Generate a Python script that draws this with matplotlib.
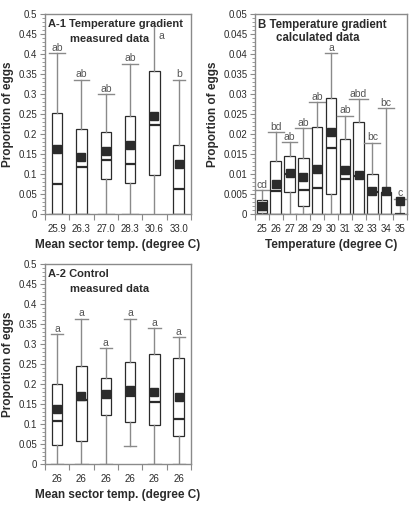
import matplotlib.pyplot as plt
from matplotlib.ticker import MultipleLocator, FixedLocator

plt.rcParams["font.family"] = ["Liberation Sans", "DejaVu Sans"]

# Panel A-1: temperature gradient, measured data
a1_labels = ["25.9", "26.3", "27.0", "28.3", "30.6", "33.0"]
a1_q1 = [0.0, 0.0, 0.087, 0.077, 0.098, 0.0]
a1_med = [0.074, 0.117, 0.134, 0.124, 0.223, 0.063]
a1_q3 = [0.252, 0.213, 0.204, 0.244, 0.358, 0.172]
a1_mean = [0.163, 0.143, 0.157, 0.172, 0.244, 0.124]
a1_lo = [0.0, 0.0, 0.0, 0.0, 0.0, 0.0]
a1_hi = [0.402, 0.336, 0.300, 0.376, 0.470, 0.336]
a1_sig = ["ab", "ab", "ab", "ab", "a", "b"]

# Panel B: temperature gradient, calculated data
b_labels = ["25", "26", "27", "28", "29", "30", "31", "32", "33", "34", "35"]
b_q1 = [0.0003, 0.0, 0.0054, 0.0020, 0.0, 0.0049, 0.0, 0.0, 0.0, 0.0, 0.0]
b_med = [0.0010, 0.0058, 0.0100, 0.0060, 0.0066, 0.0164, 0.0088, 0.0095, 0.0055, 0.0052, 0.0]
b_q3 = [0.0034, 0.0133, 0.0145, 0.0140, 0.0218, 0.0290, 0.0188, 0.0229, 0.0100, 0.0055, 0.0]
b_mean = [0.0021, 0.0074, 0.0102, 0.0093, 0.0113, 0.0205, 0.0110, 0.0098, 0.0058, 0.0058, 0.0033]
b_lo = [0.0] * 11
b_hi = [0.0060, 0.0205, 0.0180, 0.0215, 0.0280, 0.0402, 0.0246, 0.0287, 0.0178, 0.0264, 0.0038]
b_sig = ["cd", "bd", "ab", "ab", "ab", "a", "ab", "abd", "bc", "bc", "c"]

# Panel A-2: control, measured data
a2_labels = ["26", "26", "26", "26", "26", "26"]
a2_q1 = [0.047, 0.058, 0.122, 0.106, 0.098, 0.069]
a2_med = [0.107, 0.159, 0.168, 0.170, 0.155, 0.113]
a2_q3 = [0.199, 0.245, 0.216, 0.255, 0.275, 0.265]
a2_mean = [0.138, 0.169, 0.175, 0.186, 0.181, 0.168]
a2_lo = [0.0, 0.0, 0.0, 0.044, 0.0, 0.0]
a2_hi = [0.325, 0.363, 0.289, 0.363, 0.340, 0.317]
a2_sig = ["a", "a", "a", "a", "a", "a"]

DARK = "#2b2b2b"
GRAY = "#8a8a8a"
FIG_W, FIG_H = 4.18, 5.07

fig = plt.figure(figsize=(FIG_W, FIG_H), dpi=100)


def panel(rect, labels, q1, med, q3, mean, lo, hi, sig, ymax, ymajor, yminor,
          title1, title2, xlabel, side_label=None, tsize=8):
    ax = fig.add_axes(rect)
    n = len(labels)
    px_per_cat = rect[2] * FIG_W * 100 / n
    stats = []
    for i in range(n):
        stats.append(dict(q1=q1[i], med=med[i], q3=q3[i], mean=mean[i],
                          whislo=lo[i], whishi=hi[i], fliers=[]))
    capw = []
    for i, s in enumerate(sig):
        if side_label is not None and i == side_label:
            capw.append(0.0)
        else:
            capw.append((8.5 + 3.7 * len(s)) / px_per_cat)
    ax.bxp(stats, positions=range(1, n + 1), widths=10.5 / px_per_cat,
           capwidths=capw, showmeans=True, patch_artist=True,
           boxprops=dict(facecolor="white", edgecolor=DARK, linewidth=0.9),
           medianprops=dict(color=DARK, linewidth=1.6),
           whiskerprops=dict(color=GRAY, linewidth=1.0),
           capprops=dict(color=GRAY, linewidth=1.0),
           meanprops=dict(marker="s", markerfacecolor=DARK, markeredgecolor=DARK,
                          markersize=5.2))
    off = ymax * 0.002
    for i, s in enumerate(sig):
        if side_label is not None and i == side_label:
            ax.text(i + 1.3, hi[i] * 0.945, s, ha="center", va="center",
                    fontsize=7.5, color="#555555")
        else:
            ax.text(i + 1, hi[i] + off, s, ha="center", va="bottom",
                    fontsize=7.5, color="#555555")

    ax.set_xlim(0.5, n + 0.5)
    ax.set_ylim(0, ymax)
    ax.yaxis.set_major_locator(MultipleLocator(ymajor))
    ax.yaxis.set_minor_locator(MultipleLocator(yminor))
    ax.set_yticklabels([f"{v:g}" for v in ax.get_yticks()])
    ax.set_xticks(range(1, n + 1))
    ax.set_xticklabels(labels)
    ax.xaxis.set_minor_locator(FixedLocator([k + 0.5 for k in range(n + 1)]))
    ax.tick_params(axis="x", which="major", length=0, pad=7, labelsize=7, labelcolor=DARK)
    ax.tick_params(axis="x", which="minor", length=4, width=0.8, color=GRAY)
    ax.tick_params(axis="y", which="major", length=3.5, width=0.8, color=GRAY,
                   labelsize=7, labelcolor=DARK, pad=2)
    ax.tick_params(axis="y", which="minor", length=2, width=0.6, color=GRAY)
    for sp in ax.spines.values():
        sp.set_color(GRAY)
        sp.set_linewidth(1.0)
    ax.set_ylabel("Proportion of eggs", fontsize=8.5, fontweight="bold",
                  color=DARK, labelpad=3)
    ax.set_xlabel(xlabel, fontsize=8.5, fontweight="bold", color=DARK, labelpad=4)
    ax.text(0.02, 0.975, title1, transform=ax.transAxes, ha="left", va="top",
            fontsize=tsize, fontweight="bold", color=DARK)
    ax.text(title2[1], title2[2], title2[0], transform=ax.transAxes, ha="left", va="top",
            fontsize=tsize, fontweight="bold", color=DARK)
    return ax


panel([0.1077, 0.578, 0.349, 0.3945], a1_labels, a1_q1, a1_med, a1_q3, a1_mean,
      a1_lo, a1_hi, a1_sig, 0.5, 0.05, 0.01,
      "A-1 Temperature gradient", ("measured data", 0.17, 0.9),
      "Mean sector temp. (degree C)", side_label=4)

panel([0.610, 0.578, 0.3636, 0.3945], b_labels, b_q1, b_med, b_q3, b_mean,
      b_lo, b_hi, b_sig, 0.05, 0.005, 0.001,
      "B Temperature gradient", ("calculated data", 0.14, 0.912),
      "Temperature (degree C)", tsize=8.3)

panel([0.1077, 0.0848, 0.349, 0.3945], a2_labels, a2_q1, a2_med, a2_q3, a2_mean,
      a2_lo, a2_hi, a2_sig, 0.5, 0.05, 0.01,
      "A-2 Control", ("measured data", 0.17, 0.9),
      "Mean sector temp. (degree C)")

fig.savefig("out.png", dpi=100)
